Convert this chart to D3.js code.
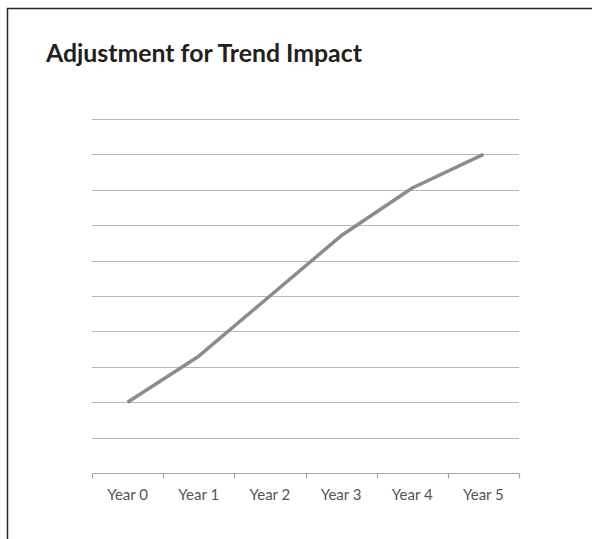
<!DOCTYPE html>
<html>
<head>
<meta charset="utf-8">
<script src="https://cdn.jsdelivr.net/npm/d3@7"></script>
<style>
  html, body { margin: 0; padding: 0; background: #fff; }
  svg { display: block; }
</style>
</head>
<body>
<svg id="chart" width="592" height="539"></svg>
<script>
const title = "Adjustment for Trend Impact";
const categories = ["Year 0", "Year 1", "Year 2", "Year 3", "Year 4", "Year 5"];
const values = [2, 3.3, 5.0, 6.7, 8.05, 9];
const gridTicks = [1, 2, 3, 4, 5, 6, 7, 8, 9, 10];

const svg = d3.select("#chart");

// frame (top + left border)
svg.append("path")
  .attr("d", "M7.5,539 L7.5,8.5 L592,8.5")
  .attr("fill", "none")
  .attr("stroke", "#2a2a2a")
  .attr("stroke-width", 1.5);

// title
const t = svg.append("text")
  .attr("x", 46)
  .attr("y", 62)
  .attr("font-family", "Lato, 'Open Sans', sans-serif")
  .attr("font-weight", 700)
  .attr("font-size", 24)
  .attr("fill", "#231f20")
  .text(title);
const tw = t.node().getComputedTextLength();
if (tw > 0) t.attr("font-size", 24 * 316 / tw);

const x = d3.scaleBand().domain(categories).range([92, 519]);
const y = d3.scaleLinear().domain([0, 10]).range([473, 119]);

// gridlines
svg.append("g")
  .selectAll("line")
  .data(gridTicks)
  .join("line")
  .attr("x1", 92).attr("x2", 519)
  .attr("y1", d => Math.round(y(d)) + 0.5)
  .attr("y2", d => Math.round(y(d)) + 0.5)
  .attr("stroke", "#b8b8b8")
  .attr("stroke-width", 1.2);

// x axis
const xAxis = svg.append("g")
  .attr("transform", `translate(0,${Math.round(y(0)) + 0.5})`)
  .call(d3.axisBottom(x).tickSize(0).tickPadding(16));
xAxis.select(".domain")
  .attr("d", "M92,0H519")
  .attr("stroke", "#a6a6a6")
  .attr("stroke-width", 1.2);
xAxis.selectAll("text")
  .attr("font-family", "Lato, 'Open Sans', sans-serif")
  .attr("font-size", 15)
  .attr("fill", "#555555");
// boundary ticks
const bounds = categories.map(c => x(c)).concat([x(categories[categories.length - 1]) + x.bandwidth()]);
xAxis.selectAll(".bt")
  .data(bounds)
  .join("line")
  .attr("class", "bt")
  .attr("x1", d => Math.round(d) + 0.5).attr("x2", d => Math.round(d) + 0.5)
  .attr("y1", 0).attr("y2", 5)
  .attr("stroke", "#a6a6a6")
  .attr("stroke-width", 1.2);

// line
const line = d3.line()
  .x((d, i) => x(categories[i]) + x.bandwidth() / 2)
  .y(d => y(d));
svg.append("path")
  .datum(values)
  .attr("d", line)
  .attr("fill", "none")
  .attr("stroke", "#8c8c8c")
  .attr("stroke-width", 3.5)
  .attr("stroke-linejoin", "round");
</script>
</body>
</html>
